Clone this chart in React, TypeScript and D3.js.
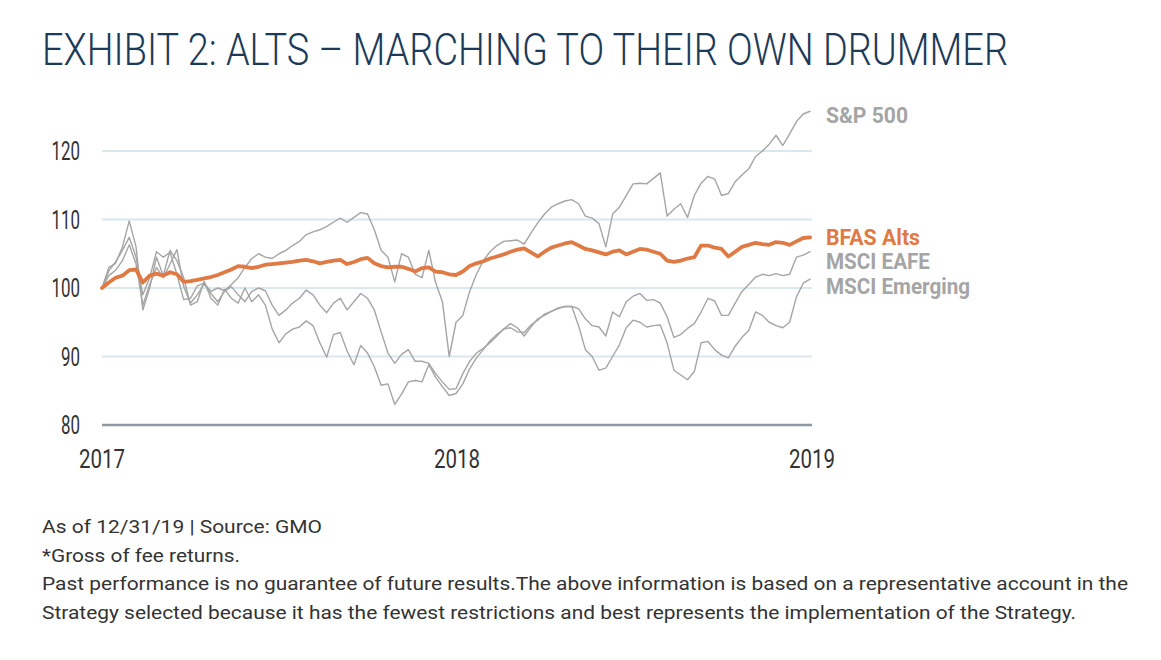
import React from "react";
import * as d3 from "d3";

// ---------- DATA ----------
const startDate = new Date(2017, 0, 1);
// weekly observation dates (105 weeks)
const dates: Date[] = d3.range(105).map((i) => d3.timeDay.offset(startDate, i * 7));

const sp500 = [
  100, 102.5, 103.8, 105.5, 107.4, 104.5, 99.0, 101.5, 105.3, 104.5, 105.2, 102.0, 98.3, 98.5, 100.3, 100.7, 99.5, 100.0, 99.6, 100.5,
  101.5, 103.0, 104.3, 105.0, 104.5, 104.3, 105.0, 105.5, 106.2, 106.8, 107.8, 108.2, 108.5, 109.0, 109.6, 110.2, 109.6, 110.3, 111.0, 110.8,
  108.5, 105.5, 104.5, 100.9, 105.0, 104.5, 102.0, 101.5, 105.5, 100.8, 98.0, 90.0, 95.0, 96.0, 99.5, 102.0, 104.0, 105.3, 106.2, 106.8,
  106.9, 107.0, 106.4, 108.0, 109.5, 110.8, 111.8, 112.3, 112.7, 112.9, 112.3, 110.5, 110.2, 109.4, 106.0, 110.8, 111.8, 113.5, 115.2, 115.3,
  115.2, 116.0, 116.8, 110.5, 111.5, 112.3, 110.3, 113.5, 115.3, 116.3, 115.9, 113.5, 113.8, 115.5, 116.5, 117.4, 119.2, 120.0, 121.0, 122.3,
  120.8, 122.5, 124.3, 125.4, 125.8,
];

const bfasAlts = [
  100.0, 100.8, 101.5, 101.8, 102.6, 102.7, 100.8, 101.8, 102.1, 101.8, 102.3, 102.0, 100.9, 101.0, 101.2, 101.4, 101.6, 101.9, 102.3, 102.7,
  103.2, 103.1, 102.9, 103.1, 103.4, 103.5, 103.6, 103.7, 103.8, 104.0, 104.1, 103.9, 103.6, 103.8, 104.0, 104.1, 103.5, 103.8, 104.2, 104.4,
  103.6, 103.2, 103.0, 103.1, 103.1, 102.8, 102.4, 102.9, 103.0, 102.4, 102.3, 102.0, 101.9, 102.4, 103.2, 103.6, 103.9, 104.3, 104.6, 104.9,
  105.3, 105.6, 105.8, 105.2, 104.6, 105.3, 105.9, 106.2, 106.5, 106.7, 106.2, 105.7, 105.5, 105.2, 104.9, 105.3, 105.5, 104.9, 105.3, 105.7,
  105.6, 105.3, 105.0, 104.0, 103.8, 104.0, 104.3, 104.5, 106.2, 106.2, 105.9, 105.7, 104.6, 105.3, 106.0, 106.3, 106.6, 106.4, 106.3, 106.7,
  106.6, 106.3, 106.8, 107.3, 107.4,
];

const msciEafe = [
  100, 101.8, 102.6, 104.0, 106.3, 103.5, 97.5, 100.5, 103.0, 101.5, 103.5, 105.6, 100.2, 97.8, 99.0, 100.6, 99.2, 98.0, 99.5, 100.2,
  99.0, 98.0, 99.5, 100.0, 99.6, 97.5, 96.0, 96.8, 97.8, 98.5, 99.7, 99.0, 97.5, 96.4, 97.8, 98.5, 96.8, 98.0, 99.2, 98.5,
  96.8, 93.6, 90.5, 89.0, 90.3, 91.0, 89.3, 89.3, 89.0, 87.5, 86.3, 85.2, 85.3, 87.5, 89.3, 90.5, 91.2, 92.0, 93.0, 94.0,
  94.2, 93.6, 93.5, 94.6, 95.3, 96.2, 96.6, 97.1, 97.3, 97.3, 97.0, 95.5, 94.5, 94.3, 93.0, 96.5, 95.8, 98.0, 98.8, 99.2,
  98.2, 98.3, 97.8, 95.8, 92.8, 93.2, 94.1, 94.8, 96.5, 98.5, 98.1, 96.0, 96.0, 97.8, 99.5, 100.5, 101.6, 102.0, 101.8, 102.1,
  101.8, 102.0, 104.5, 104.8, 105.3,
];

const msciEmerging = [
  100, 103.0, 103.6, 106.0, 109.8, 106.0, 96.8, 100.0, 104.5, 101.8, 105.5, 104.0, 101.5, 97.5, 98.0, 101.0, 98.5, 97.5, 99.8, 98.5,
  97.8, 100.0, 98.0, 99.0, 97.5, 94.0, 92.0, 93.3, 94.0, 94.3, 95.2, 94.5, 92.0, 89.9, 93.2, 93.5, 90.8, 88.8, 91.6, 90.5,
  88.5, 85.8, 86.0, 83.0, 84.5, 86.3, 86.5, 86.3, 88.8, 87.0, 85.6, 84.3, 84.6, 86.0, 88.2, 89.8, 91.0, 92.3, 93.2, 94.0,
  94.8, 94.2, 93.0, 94.3, 95.5, 96.0, 96.6, 97.0, 97.3, 97.3, 94.5, 91.0, 90.0, 88.0, 88.3, 90.0, 91.7, 94.2, 95.3, 95.0,
  94.3, 94.5, 94.6, 92.0, 88.0, 87.3, 86.6, 87.8, 92.0, 92.2, 91.0, 90.2, 89.8, 91.5, 92.8, 93.8, 96.5, 96.0, 95.0, 94.5,
  94.2, 95.0, 98.7, 100.7, 101.3,
];

const seriesNames = ["S&P 500", "MSCI EAFE", "MSCI Emerging", "BFAS Alts"];
const yTickValues = [80, 90, 100, 110, 120];
const xTickLabels = ["2017", "2018", "2019"];

const titleText = "EXHIBIT 2: ALTS \u2013 MARCHING TO THEIR OWN DRUMMER";
const footnotes = [
  "As of 12/31/19 | Source: GMO",
  "*Gross of fee returns.",
  "Past performance is no guarantee of future results.The above information is based on a representative account in the",
  "Strategy selected because it has the fewest restrictions and best represents the implementation of the Strategy.",
];

// ---------- LAYOUT / STYLE ----------
const W = 1161;
const H = 660;
const plotLeft = 102;
const plotRight = 812;
const GRAY = "#a5a5a5";
const ORANGE = "#e07a44";
const GRID = "#d9e7ee";
const AXIS = "#8d98a3";
const TITLE = "#1d3b58";
const TEXT = "#333333";

const seriesStyle: Record<string, { color: string; width: number; labelValue: number; labelWidth: number }> = {
  "S&P 500": { color: GRAY, width: 1.4, labelValue: 125.2, labelWidth: 82 },
  "BFAS Alts": { color: ORANGE, width: 3.8, labelValue: 107.5, labelWidth: 94 },
  "MSCI EAFE": { color: GRAY, width: 1.4, labelValue: 103.9, labelWidth: 104 },
  "MSCI Emerging": { color: GRAY, width: 1.4, labelValue: 100.3, labelWidth: 144 },
};
const footWidths = [280, 198, 1086, 1034];

export default function App() {
  const x = d3
    .scaleTime()
    .domain([new Date(2017, 0, 1), new Date(2019, 0, 1)])
    .range([plotLeft, plotRight]);
  const y = d3.scaleLinear().domain([80, 120]).range([425, 151]);

  const valuesByName: Record<string, number[]> = {
    "S&P 500": sp500,
    "MSCI EAFE": msciEafe,
    "MSCI Emerging": msciEmerging,
    "BFAS Alts": bfasAlts,
  };

  const line = d3
    .line<number>()
    .x((_, i) => x(dates[i]))
    .y((v) => y(v));

  const xTickDates = xTickLabels.map((s) => new Date(+s, 0, 1));

  return (
    <svg
      width={W}
      height={H}
      style={{ position: "absolute", left: 0, top: 0, background: "#fff" }}
      fontFamily="Roboto, 'Noto Sans', sans-serif"
    >
      <rect width={W} height={H} fill="#fff" />
      {/* title */}
      <text
        x={42}
        y={65}
        fontSize={44}
        fontWeight={300}
        fill={TITLE}
        textLength={966}
        lengthAdjust="spacingAndGlyphs"
      >
        {titleText}
      </text>

      {/* grid */}
      {yTickValues.map((v) => (
        <g key={v}>
          <line
            x1={plotLeft}
            x2={plotRight}
            y1={y(v)}
            y2={y(v)}
            stroke={v === 80 ? AXIS : GRID}
            strokeWidth={v === 80 ? 2.5 : 2}
          />
          <text
            x={80}
            y={y(v) + 9}
            textAnchor="end"
            fontSize={25}
            fill={TEXT}
            textLength={String(v).length * 9.5}
            lengthAdjust="spacingAndGlyphs"
          >
            {v}
          </text>
        </g>
      ))}

      {/* x ticks */}
      {xTickDates.map((d, i) => (
        <text
          key={i}
          x={x(d)}
          y={468}
          textAnchor="middle"
          fontSize={25}
          fill={TEXT}
          textLength={46}
          lengthAdjust="spacingAndGlyphs"
        >
          {xTickLabels[i]}
        </text>
      ))}

      {/* series lines */}
      {seriesNames.map((name) => (
        <path
          key={name}
          d={line(valuesByName[name]) || ""}
          fill="none"
          stroke={seriesStyle[name].color}
          strokeWidth={seriesStyle[name].width}
          strokeLinejoin="round"
          strokeLinecap="round"
        />
      ))}

      {/* series labels */}
      {seriesNames.map((name) => (
        <text
          key={name}
          x={826}
          y={y(seriesStyle[name].labelValue) + 8}
          fontSize={22}
          fontWeight={700}
          fill={seriesStyle[name].color}
          textLength={seriesStyle[name].labelWidth}
          lengthAdjust="spacingAndGlyphs"
        >
          {name}
        </text>
      ))}

      {/* footnotes */}
      {footnotes.map((t, i) => (
        <text
          key={i}
          x={42}
          y={533 + i * 28.5}
          fontSize={18}
          fill={TEXT}
          textLength={footWidths[i]}
          lengthAdjust="spacingAndGlyphs"
        >
          {t}
        </text>
      ))}
    </svg>
  );
}
